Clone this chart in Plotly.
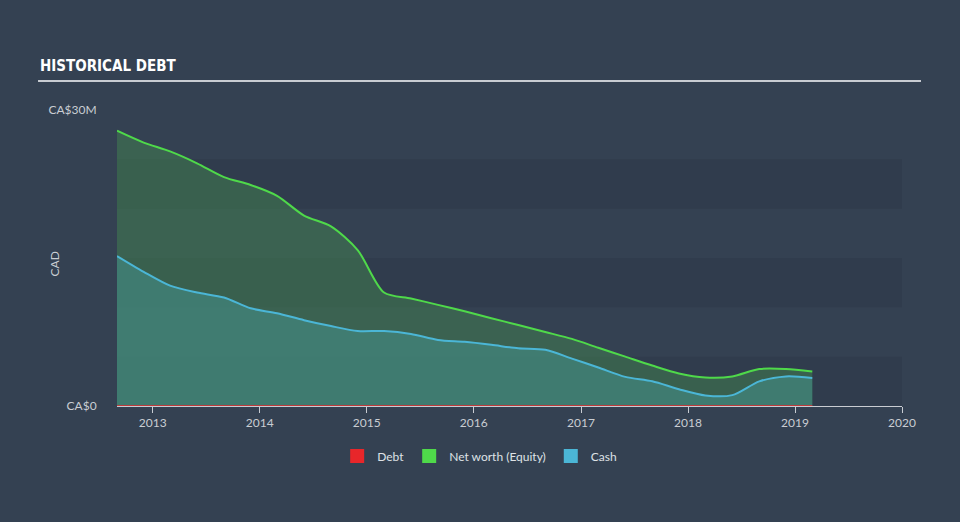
import plotly.graph_objects as go

dates = ["2012-09-01", "2012-12-01", "2013-03-01", "2013-06-01", "2013-09-01", "2013-12-01",
         "2014-03-01", "2014-06-01", "2014-09-01", "2014-12-01", "2015-03-01", "2015-06-01",
         "2015-09-01", "2015-12-01", "2016-03-01", "2016-06-01", "2016-09-01", "2016-12-01",
         "2017-03-01", "2017-06-01", "2017-09-01", "2017-12-01", "2018-03-01", "2018-06-01",
         "2018-09-01", "2018-12-01", "2019-03-01"]
equity = [27.9, 26.7, 25.8, 24.6, 23.2, 22.4, 21.3, 19.3, 18.2, 15.8, 11.5, 10.9, 10.25, 9.6,
          8.9, 8.2, 7.5, 6.8, 5.9, 5.0, 4.1, 3.3, 2.9, 3.0, 3.75, 3.75, 3.5]
cash = [15.2, 13.6, 12.2, 11.5, 11.0, 9.9, 9.4, 8.7, 8.1, 7.6, 7.6, 7.3, 6.7, 6.5,
        6.2, 5.85, 5.7, 4.8, 3.9, 2.95, 2.5, 1.7, 1.07, 1.1, 2.5, 3.0, 2.85]
debt = [0.0] * len(dates)
year_ticks = ["2013-01-01", "2014-01-01", "2015-01-01", "2016-01-01", "2017-01-01",
              "2018-01-01", "2019-01-01", "2020-01-01"]
year_labels = ["2013", "2014", "2015", "2016", "2017", "2018", "2019", "2020"]

BG = "#344152"
STRIPE = "#303c4d"
GREEN = "#4fd94a"
BLUE = "#4bb6d6"
RED = "#e8262a"

fig = go.Figure()
fig.add_trace(go.Scatter(x=dates, y=equity, mode="lines", fill="tozeroy",
                         line=dict(color=GREEN, width=2, shape="spline", smoothing=0.8),
                         fillcolor="rgba(68,140,80,0.45)", showlegend=False, hoverinfo="skip"))
fig.add_trace(go.Scatter(x=dates, y=cash, mode="lines", fill="tozeroy",
                         line=dict(color=BLUE, width=2, shape="spline", smoothing=0.8),
                         fillcolor="rgba(70,150,145,0.5)", showlegend=False, hoverinfo="skip"))
fig.add_trace(go.Scatter(x=dates, y=debt, mode="lines",
                         line=dict(color=RED, width=1.5), showlegend=False, hoverinfo="skip"))

for name, col in [("Debt", RED), ("Net worth (Equity)", GREEN), ("Cash", BLUE)]:
    fig.add_trace(go.Scatter(x=[None], y=[None], mode="markers", name=name,
                             marker=dict(symbol="square", size=14, color=col)))

shapes = []
for lo in [0, 10, 20]:
    shapes.append(dict(type="rect", xref="paper", yref="y", x0=0, x1=1, y0=lo, y1=lo + 5,
                       fillcolor=STRIPE, line=dict(width=0), layer="below"))
shapes.append(dict(type="line", xref="paper", yref="paper", x0=-0.1006, x1=1.0242,
                   y0=1.098, y1=1.098, line=dict(color="#c8ccd2", width=2)))

fig.update_layout(
    width=960, height=522,
    paper_bgcolor=BG, plot_bgcolor=BG,
    margin=dict(l=117, r=58, t=110, b=116),
    font=dict(family="Lato, sans-serif", color="#c9cdd3", size=12),
    shapes=shapes,
    annotations=[
        dict(text="<b>HISTORICAL DEBT</b>", xref="paper", yref="paper",
             x=-0.1006, y=1.11, xanchor="left", yanchor="bottom", showarrow=False,
             font=dict(family="DejaVu Sans Condensed, sans-serif", size=15, color="#ffffff")),
        dict(text="CAD", xref="paper", yref="paper", x=-0.0796, y=0.48, textangle=-90,
             xanchor="center", yanchor="middle", showarrow=False,
             font=dict(size=12, color="#c9cdd3")),
    ],
    xaxis=dict(range=["2012-09-01", "2020-01-01"], tickvals=year_ticks, ticktext=year_labels,
               showgrid=False, zeroline=False, showline=True, linecolor="#c8ccd2", linewidth=1,
               ticks="outside", ticklen=6, tickcolor="#c8ccd2",
               tickfont=dict(size=12, color="#c9cdd3")),
    yaxis=dict(range=[0, 30], tickvals=[0, 30], ticktext=["CA$0", "CA$30M"],
               showgrid=False, zeroline=False, showline=False,
               ticks="outside", ticklen=17, tickcolor="rgba(0,0,0,0)",
               tickfont=dict(size=12, color="#c9cdd3")),
    legend=dict(orientation="h", x=0.462, y=-0.12, xanchor="center", yanchor="top",
                font=dict(size=12, color="#dfe2e6"), bgcolor="rgba(0,0,0,0)",
                itemwidth=30),
)

fig.write_html("out.html")
